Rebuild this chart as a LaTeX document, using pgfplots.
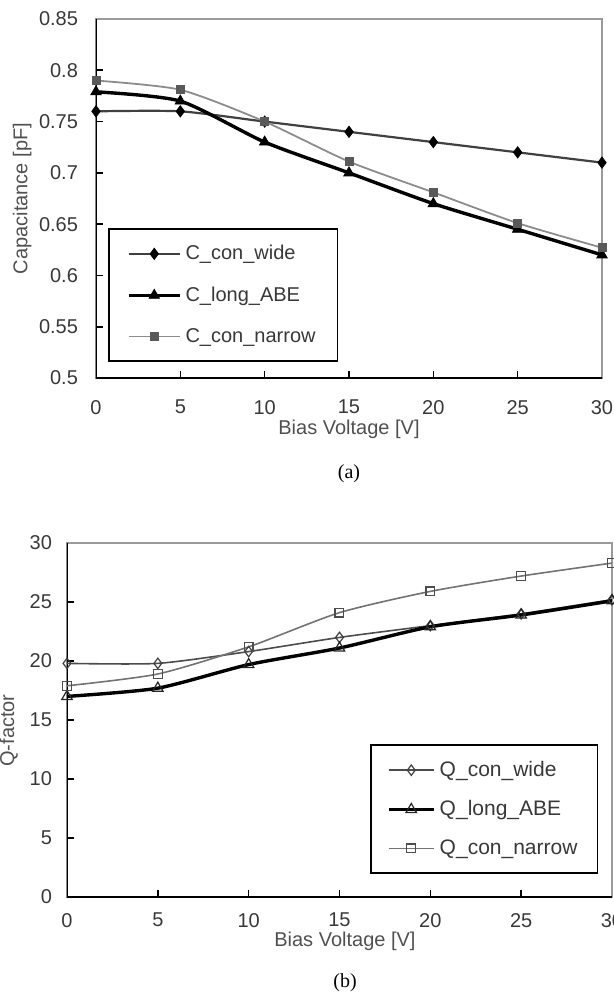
\documentclass[border=0pt]{standalone}
\usepackage{fontspec}
\setmainfont{Liberation Sans}
\newfontfamily\capfont{Liberation Serif}
\usepackage{pgfplots}
\pgfplotsset{compat=1.18}

\definecolor{tickgray}{HTML}{383838}
\definecolor{labgray}{HTML}{505050}
\definecolor{framegray}{HTML}{9A9A9A}

\pgfplotsset{
  excel/.style={
    scale only axis, anchor=south west,
    xmin=0, xmax=30, xtick={0,5,...,30},
    axis line style={draw=framegray, line width=0.7pt},
    tick style={black, line width=0.8pt},
    major tick length=3.5pt, tick align=inside,
    xtick pos=bottom, ytick pos=left,
    /pgf/number format/assume math mode=true,
    ticklabel style={font=\fontsize{10}{12}\selectfont, text=tickgray},
    label style={font=\fontsize{10}{12}\selectfont, text=labgray},
    legend cell align=left,
    legend style={draw=black, line width=0.8pt,
      font=\fontsize{10}{12}\selectfont, text=tickgray,
      row sep=8pt, inner xsep=9pt, inner ysep=6pt},
  }
}

\begin{document}
\begin{tikzpicture}
\useasboundingbox (0,0) rectangle (307pt,-498.5pt);

% (a) capacitance
\begin{axis}[excel,
  at={(48pt,-189pt)}, width=253pt, height=179.5pt,
  ymin=0.5, ymax=0.85,
  ytick={0.5,0.55,0.6,0.65,0.7,0.75,0.8,0.85},
  yticklabels={0.5,0.55,0.6,0.65,0.7,0.75,0.8,0.85},
  xlabel={Bias Voltage [V]}, ylabel={Capacitance [pF]},
  xlabel style={at={(axis description cs:0.5,-0.142)}, anchor=center},
  ylabel style={at={(axis description cs:-0.146,0.5)}, anchor=center},
  yticklabel style={xshift=-5.5pt},
  xticklabel style={yshift=-7.5pt},
  legend style={at={(0.024,0.045)}, anchor=south west},
  legend image code/.code={
    \draw[mark repeat=2, mark phase=2]
      plot coordinates {(0cm,0cm) (0.45cm,0cm) (0.9cm,0cm)};},
]
\draw[black, line width=1.1pt] (rel axis cs:0,1) -- (rel axis cs:0,0) -- (rel axis cs:1,0);

\addplot[color=black!75, line width=1.1pt, smooth, tension=0.4,
  mark=diamond*, mark size=2.8pt, mark options={fill=black, draw=black, line width=0.4pt}]
  coordinates {(0,0.76) (5,0.76) (10,0.75) (15,0.74) (20,0.73) (25,0.72) (30,0.71)};
\addplot[color=black, line width=1.7pt, smooth, tension=0.4,
  mark=triangle*, mark size=3pt, mark options={fill=black, draw=black, line width=0.4pt}]
  coordinates {(0,0.779) (5,0.770) (10,0.730) (15,0.700) (20,0.670) (25,0.645) (30,0.620)};
\addplot[color=black!45, line width=0.9pt, smooth, tension=0.4,
  mark=square*, mark size=2pt, mark options={fill=black!65, draw=black!65, line width=0.4pt}]
  coordinates {(0,0.790) (5,0.781) (10,0.750) (15,0.711) (20,0.681) (25,0.651) (30,0.627)};
\legend{C\_con\_wide, C\_long\_ABE, C\_con\_narrow}
\end{axis}

\node[font=\capfont\fontsize{10}{12}\selectfont] at (174.5pt,-237pt) {(a)};

% (b) Q-factor
\begin{axis}[excel,
  at={(33.5pt,-448.5pt)}, width=272.5pt, height=177pt,
  ymin=0, ymax=30, ytick={0,5,...,30},
  xlabel={Bias Voltage [V]}, ylabel={Q-factor},
  xlabel style={at={(axis description cs:0.51,-0.125)}, anchor=center},
  ylabel style={at={(axis description cs:-0.107,0.47)}, anchor=center},
  yticklabel style={xshift=-4pt},
  xticklabel style={yshift=-4.5pt},
  legend style={at={(0.556,0.065)}, anchor=south west, row sep=6.5pt,
    font=\fontsize{10.5}{12}\selectfont, inner xsep=8pt},
  legend image code/.code={
    \draw[mark repeat=2, mark phase=2]
      plot coordinates {(0cm,0cm) (0.4cm,0cm) (0.8cm,0cm)};},
]
\draw[black, line width=1.1pt] (rel axis cs:0,1) -- (rel axis cs:0,0) -- (rel axis cs:1,0);

\addplot[color=black!70, line width=0.8pt, smooth, tension=0.4,
  mark=diamond, mark size=2.6pt, mark options={fill=white, draw=black!75, line width=0.6pt}]
  coordinates {(0,19.8) (5,19.8) (10,20.8) (15,22.0) (20,23.0) (25,24.0) (30,25.2)};
\addplot[color=black, line width=1.7pt, smooth, tension=0.4,
  mark=triangle, mark size=3pt, mark options={fill=white, draw=black!85, line width=0.6pt}]
  coordinates {(0,17.0) (5,17.7) (10,19.7) (15,21.1) (20,22.9) (25,23.9) (30,25.1)};
\addplot[color=black!55, line width=0.8pt, smooth, tension=0.4,
  mark=square, mark size=2.2pt, mark options={fill=white, draw=black!70, line width=0.6pt}]
  coordinates {(0,17.9) (5,18.9) (10,21.2) (15,24.1) (20,25.9) (25,27.2) (30,28.3)};
\legend{Q\_con\_wide, Q\_long\_ABE, Q\_con\_narrow}
\end{axis}

\node[font=\capfont\fontsize{10}{12}\selectfont] at (172.5pt,-491.5pt) {(b)};
\end{tikzpicture}
\end{document}
